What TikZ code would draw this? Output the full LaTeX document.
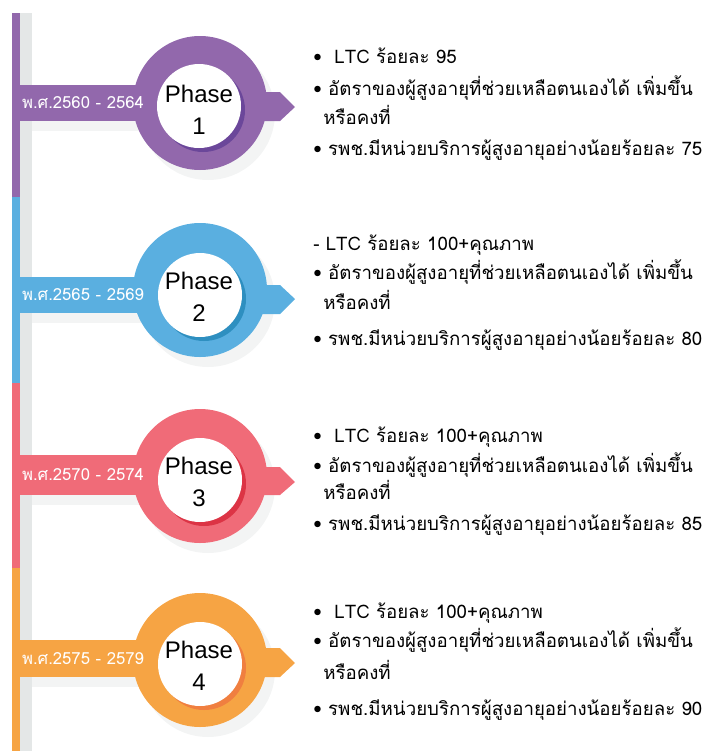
\documentclass[tikz,border=0pt]{standalone}
\usepackage{fontspec}
\newfontfamily\thaifont[Script=Thai]{Loma}
\newfontfamily\phasefont{Liberation Sans}
\definecolor{phaseA}{HTML}{9268AC}
\definecolor{phaseAdark}{HTML}{6B479A}
\definecolor{phaseB}{HTML}{5AAFE0}
\definecolor{phaseBdark}{HTML}{2E8FC0}
\definecolor{phaseC}{HTML}{F06B78}
\definecolor{phaseCdark}{HTML}{DC3445}
\definecolor{phaseD}{HTML}{F6A444}
\definecolor{phaseDdark}{HTML}{F07F40}
\definecolor{greystrip}{HTML}{E4E7E7}
\begin{document}
\begin{tikzpicture}[x=0.75pt,y=-0.75pt]

    \tikzset{
      phase/.style={
        font=\phasefont\fontsize{18}{24}\selectfont,
        align=center,
        text=black,
        inner sep=0pt,
      },
      years/.style={
        font=\thaifont\fontsize{12.5}{14}\selectfont,
        text=white,
        inner sep=0pt,
      },
      goal/.style={
        font=\thaifont\fontsize{14}{16}\selectfont,
        anchor=west,
        inner sep=0pt,
      },
      faint/.style={
        fill=greystrip,
        opacity=0.45,
      },
    }
    \useasboundingbox (0,0) rectangle (708,751);
    \fill[greystrip] (20,13) rectangle (32,751);
    \fill[phaseA] (12,13) rectangle (20,197);
    \fill[phaseB] (12,197) rectangle (20,383);
    \fill[phaseC] (12,383) rectangle (20,568);
    \fill[phaseD] (12,568) rectangle (20,751);

	\fill[faint] (208,113) circle (67);
	\fill[faint] (20,121) rectangle (170,131);
	\fill[phaseA] (20,85) rectangle (170,121);
	\fill[phaseA] (240,92) -- (280,92) -- (295,107) -- (280,121) -- (240,121) -- cycle;
	\fill[phaseA] (200,103) circle (67);
	\fill[phaseAdark] (203,110) circle (42);
	\fill[white] (199,106) circle (42);
	\node[phase] (p1) at (199,110) {Phase\\1};
	\node[years] (y1) at (83,103) {พ.ศ.2560 - 2564};
	\node[goal] (g1a) at (313,56) {•\ \ LTC ร้อยละ 95};
	\node[goal] (g1b) at (313,88) {•\ อัตราของผู้สูงอายุที่ช่วยเหลือตนเองได้ เพิ่มขึ้น};
	\node[goal] (g1c) at (323,115) {หรือคงที่};
	\node[goal] (g1d) at (313,150) {•\ รพช.มีหน่วยบริการผู้สูงอายุอย่างน้อยร้อยละ 75};

	\fill[faint] (208,300) circle (67);
	\fill[faint] (20,313) rectangle (170,323);
	\fill[phaseB] (20,277) rectangle (170,313);
	\fill[phaseB] (240,285) -- (280,285) -- (295,299) -- (280,314) -- (240,314) -- cycle;
	\fill[phaseB] (200,290) circle (67);
	\fill[phaseBdark] (204,299) circle (42);
	\fill[white] (200,295) circle (42);
	\node[phase] (p2) at (199,297) {Phase\\2};
	\node[years] (y2) at (83,295) {พ.ศ.2565 - 2569};
	\node[goal] (g2a) at (313,245) {-\ LTC ร้อยละ 100+คุณภาพ};
	\node[goal] (g2b) at (313,272) {•\ อัตราของผู้สูงอายุที่ช่วยเหลือตนเองได้ เพิ่มขึ้น};
	\node[goal] (g2c) at (323,300) {หรือคงที่};
	\node[goal] (g2d) at (313,340) {•\ รพช.มีหน่วยบริการผู้สูงอายุอย่างน้อยร้อยละ 80};

	\fill[faint] (208,486) circle (67);
	\fill[faint] (20,495) rectangle (170,505);
	\fill[phaseC] (20,455) rectangle (170,495);
	\fill[phaseC] (240,467) -- (280,467) -- (295,482) -- (280,495) -- (240,495) -- cycle;
	\fill[phaseC] (200,476) circle (67);
	\fill[phaseCdark] (204,484) circle (42);
	\fill[white] (200,480) circle (42);
	\node[phase] (p3) at (199,482) {Phase\\3};
	\node[years] (y3) at (83,475) {พ.ศ.2570 - 2574};
	\node[goal] (g3a) at (313,437) {•\ \ LTC ร้อยละ 100+คุณภาพ};
	\node[goal] (g3b) at (313,465) {•\ อัตราของผู้สูงอายุที่ช่วยเหลือตนเองได้ เพิ่มขึ้น};
	\node[goal] (g3c) at (323,490) {หรือคงที่};
	\node[goal] (g3d) at (313,525) {•\ รพช.มีหน่วยบริการผู้สูงอายุอย่างน้อยร้อยละ 85};

	\fill[faint] (208,670) circle (67);
	\fill[faint] (20,677) rectangle (170,687);
	\fill[phaseD] (20,640) rectangle (170,677);
	\fill[phaseD] (240,648) -- (280,648) -- (295,663) -- (280,677) -- (240,677) -- cycle;
	\fill[phaseD] (200,660) circle (67);
	\fill[phaseDdark] (204,668) circle (42);
	\fill[white] (200,664) circle (42);
	\node[phase] (p4) at (199,666) {Phase\\4};
	\node[years] (y4) at (83,659) {พ.ศ.2575 - 2579};
	\node[goal] (g4a) at (313,613) {•\ \ LTC ร้อยละ 100+คุณภาพ};
	\node[goal] (g4b) at (313,640) {•\ อัตราของผู้สูงอายุที่ช่วยเหลือตนเองได้ เพิ่มขึ้น};
	\node[goal] (g4c) at (323,670) {หรือคงที่};
	\node[goal] (g4d) at (313,710) {•\ รพช.มีหน่วยบริการผู้สูงอายุอย่างน้อยร้อยละ 90};

\end{tikzpicture}
\end{document}
